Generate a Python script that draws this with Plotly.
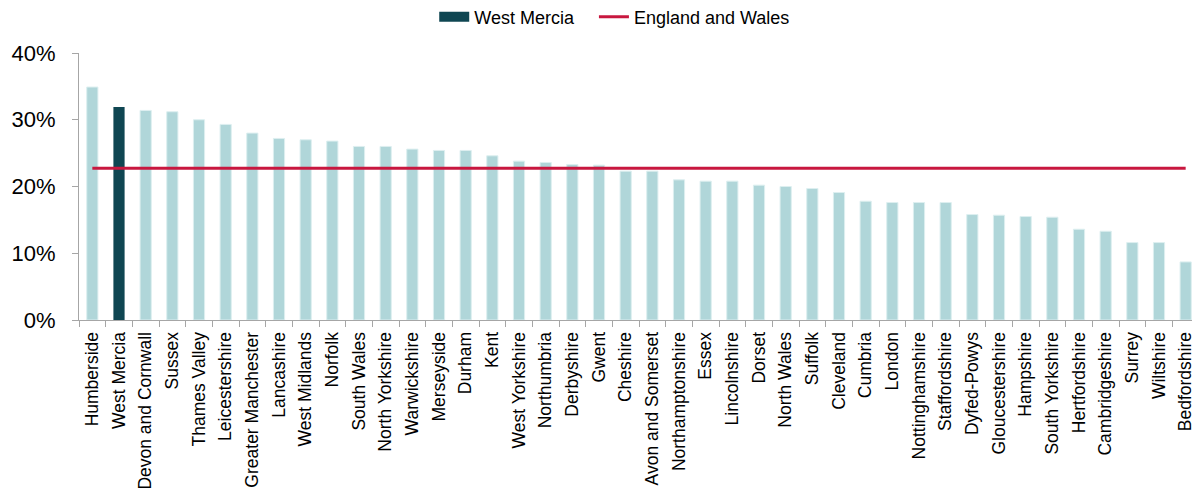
import plotly.graph_objects as go

forces = ["Humberside", "West Mercia", "Devon and Cornwall", "Sussex", "Thames Valley",
          "Leicestershire", "Greater Manchester", "Lancashire", "West Midlands", "Norfolk",
          "South Wales", "North Yorkshire", "Warwickshire", "Merseyside", "Durham", "Kent",
          "West Yorkshire", "Northumbria", "Derbyshire", "Gwent", "Cheshire",
          "Avon and Somerset", "Northamptonshire", "Essex", "Lincolnshire", "Dorset",
          "North Wales", "Suffolk", "Cleveland", "Cumbria", "London", "Nottinghamshire",
          "Staffordshire", "Dyfed-Powys", "Gloucestershire", "Hampshire", "South Yorkshire",
          "Hertfordshire", "Cambridgeshire", "Surrey", "Wiltshire", "Bedfordshire"]
values = [0.349, 0.319, 0.314, 0.312, 0.300, 0.293, 0.280, 0.272, 0.270, 0.268,
          0.260, 0.260, 0.256, 0.254, 0.254, 0.246, 0.238, 0.236, 0.233, 0.232,
          0.223, 0.223, 0.210, 0.208, 0.208, 0.202, 0.200, 0.197, 0.191, 0.178,
          0.176, 0.176, 0.176, 0.158, 0.157, 0.155, 0.154, 0.136, 0.133, 0.116,
          0.116, 0.087]
highlight = "West Mercia"
england_wales = 0.2275
yticks = [0, 0.1, 0.2, 0.3, 0.4]
ytick_labels = ["0%", "10%", "20%", "30%", "40%"]

DARK = "#0F4652"
LIGHT = "#B0D6D9"
RED = "#C8173F"

light_x = [f for f in forces if f != highlight]
light_y = [v for f, v in zip(forces, values) if f != highlight]
hi_y = [v for f, v in zip(forces, values) if f == highlight]

fig = go.Figure()
fig.add_trace(go.Bar(x=light_x, y=light_y, marker=dict(color=LIGHT, line=dict(color="#DDEFF0", width=1)),
                     width=0.42, showlegend=False, name="Other forces"))
fig.add_trace(go.Bar(x=[highlight], y=hi_y, marker=dict(color=DARK, line=dict(width=0)),
                     width=0.42, showlegend=False, name="West Mercia"))
# legend-only entry to mimic the wide rectangular swatch
fig.add_trace(go.Scatter(x=[None], y=[None], mode="lines", line=dict(color=DARK, width=10),
                         name="West Mercia\u00a0\u00a0\u00a0"))
fig.add_trace(go.Scatter(x=forces, y=[england_wales] * len(forces), mode="lines",
                         line=dict(color=RED, width=3), name="England and Wales"))

fig.update_layout(
    width=1192, height=491,
    margin=dict(l=71, r=1, t=45, b=179),
    barmode="overlay",
    plot_bgcolor="white", paper_bgcolor="white",
    font=dict(family="Liberation Sans, Arial, sans-serif", color="#000000"),
    legend=dict(orientation="h", xref="container", x=0.509, xanchor="center",
                yref="container", y=1 - 9 / 491, yanchor="middle", font=dict(size=18),
                itemwidth=30, traceorder="normal"),
    xaxis=dict(categoryorder="array", categoryarray=forces, tickangle=-90,
               tickfont=dict(size=17.5), showline=True, linecolor="#A6A6A6", linewidth=1,
               ticks="outside", tickson="boundaries", ticklen=6, tickcolor="#A6A6A6",
               ticklabelstandoff=4,
               range=[-0.5, len(forces) - 0.5], automargin=False),
    yaxis=dict(range=[0, 0.4], tickvals=yticks, ticktext=ytick_labels,
               tickfont=dict(size=22), showgrid=False, zeroline=False, showline=True,
               linecolor="#A6A6A6", linewidth=1, ticks="outside", ticklen=6,
               tickcolor="#A6A6A6", ticklabelstandoff=12, automargin=False),
)

fig.write_html("out.html")
